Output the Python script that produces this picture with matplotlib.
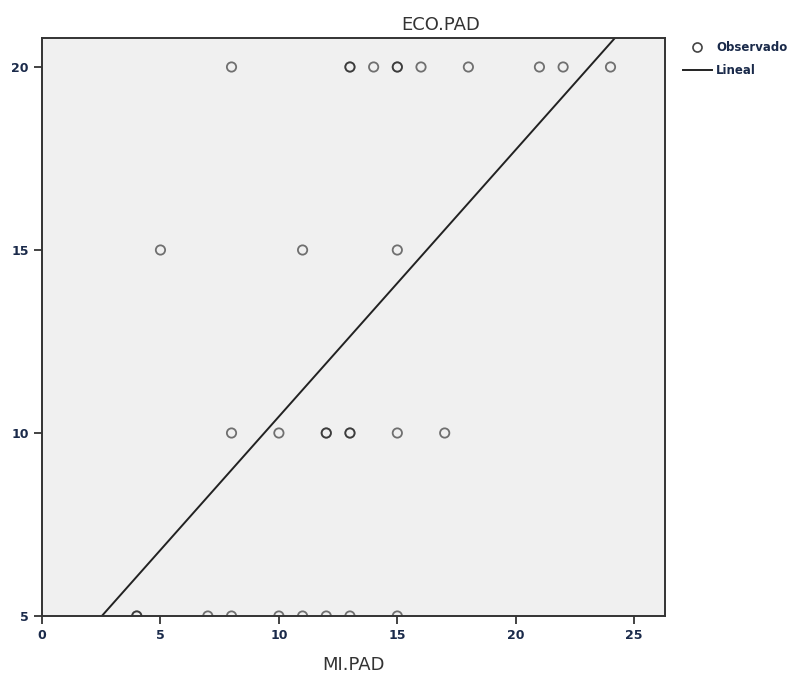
import matplotlib
matplotlib.use("Agg")
import matplotlib.pyplot as plt
from matplotlib.lines import Line2D

# observed pairs (MI.PAD, ECO.PAD); repeated pairs are listed twice
mi_pad = [8, 13, 13, 14, 15, 15, 16, 18, 21, 22, 24,
          5, 11, 15,
          8, 10, 12, 12, 13, 13, 15, 17,
          4, 4, 7, 8, 10, 11, 12, 13, 15]
eco_pad = [20, 20, 20, 20, 20, 20, 20, 20, 20, 20, 20,
           15, 15, 15,
           10, 10, 10, 10, 10, 10, 10, 10,
           5, 5, 5, 5, 5, 5, 5, 5, 5]

# linear fit line
fit_intercept = 3.16
fit_slope = 0.729
fit_x = [0, 27]

fig = plt.figure(figsize=(7.96, 6.8), dpi=100)
ax = fig.add_axes([0.0528, 0.0941, 0.7826, 0.8499])
ax.set_facecolor('#f0f0f0')

pts = ax.scatter(mi_pad, eco_pad, s=45, facecolors='none',
                 edgecolors=(0.1, 0.1, 0.1, 0.6), linewidths=1.3, zorder=3)
pts.set_clip_on(True)
pts.set_clip_box(ax.bbox)
ax.plot(fit_x, [fit_intercept + fit_slope * x for x in fit_x],
        color='#222222', lw=1.4, zorder=2)

ax.set_xlim(0, 26.3)
ax.set_ylim(5, 20.79)
ax.set_xticks([0, 5, 10, 15, 20, 25])
ax.set_yticks([5, 10, 15, 20])
ax.tick_params(direction='out', length=6, width=1.2, labelsize=9, colors='#222222')
for lab in ax.get_xticklabels() + ax.get_yticklabels():
    lab.set_fontweight('bold')
    lab.set_color('#1a2a4a')
for s in ax.spines.values():
    s.set_color('#333333')
    s.set_linewidth(1.4)
    s.set_zorder(4)

ax.set_xlabel('MI.PAD', fontsize=13, color='#333333', labelpad=10)
ax.set_title('ECO.PAD', fontsize=13, color='#333333', pad=6, x=0.64)

handles = [Line2D([], [], marker='o', ls='none', markerfacecolor='none',
                  markeredgecolor='#444444', markersize=6.5, markeredgewidth=1.2),
           Line2D([], [], color='#222222', lw=1.4)]
leg = fig.legend(handles, ['Observado', 'Lineal'], loc='upper left',
                 bbox_to_anchor=(0.845, 0.955), frameon=False,
                 prop={'size': 8.5, 'weight': 'bold'}, handlelength=2.4,
                 handletextpad=0.4, labelspacing=0.8)
for t in leg.get_texts():
    t.set_color('#1a2a4a')

fig.savefig('out.png', dpi=100)
